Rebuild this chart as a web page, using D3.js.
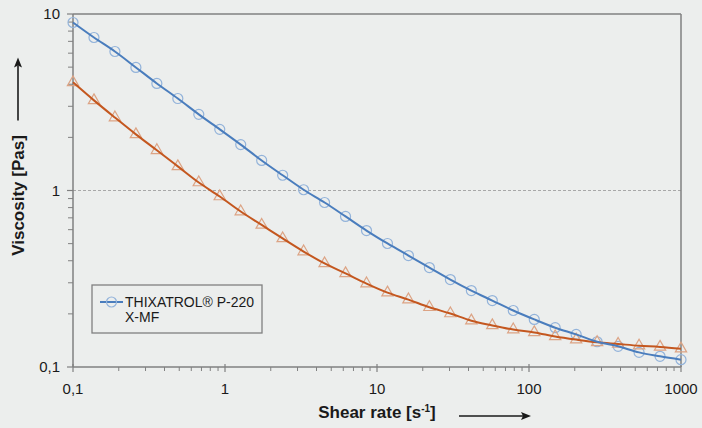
<!DOCTYPE html>
<html>
<head>
<meta charset="utf-8">
<script src="https://cdn.jsdelivr.net/npm/d3@7"></script>
<style>
    body { margin: 0; background: #eceeed; }
    #chart-area { width: 702px; height: 428px; }
    text { font-family: "Liberation Sans", Arial, sans-serif; fill: #1a1a1a; }
</style>
</head>
<body>
<div id="chart-area"></div>
<script>

// shear rate [1/s], 30 points per measurement
let shearRate = [0.1, 0.1374, 0.1887, 0.2593, 0.3562, 0.4894, 0.6723, 0.9236, 1.269, 1.743,
    2.395, 3.290, 4.520, 6.209, 8.530, 11.72, 16.10, 22.12, 30.39, 41.75,
    57.36, 78.80, 108.3, 148.7, 204.3, 280.7, 385.7, 529.8, 727.9, 1000];

// viscosity [Pas]
let viscosityBlue = [8.95, 7.36, 6.13, 4.98, 4.04, 3.32, 2.70, 2.22, 1.82, 1.48,
    1.22, 1.01, 0.855, 0.713, 0.593, 0.501, 0.428, 0.366, 0.313, 0.271,
    0.238, 0.209, 0.186, 0.167, 0.153, 0.139, 0.131, 0.121, 0.115, 0.110];

let viscosityOrange = [4.1, 3.24, 2.59, 2.08, 1.69, 1.37, 1.11, 0.925, 0.76, 0.638,
    0.535, 0.451, 0.386, 0.339, 0.297, 0.264, 0.241, 0.218, 0.201, 0.183,
    0.172, 0.163, 0.157, 0.149, 0.143, 0.138, 0.135, 0.132, 0.130, 0.127];

let xTicks = [0.1, 1, 10, 100, 1000];
let yTicks = [0.1, 1, 10];
let legendLines = ["THIXATROL\u00AE P-220", "X-MF"];


class ViscosityVis {

    constructor(parentElement) {
        this.parentElement = parentElement;
        this.initVis();
    }

    initVis() {
        let vis = this;

        vis.margin = {top: 14, right: 21, bottom: 61, left: 73};
        vis.width = 702 - vis.margin.left - vis.margin.right;
        vis.height = 428 - vis.margin.top - vis.margin.bottom;

        vis.svg = d3.select("#" + vis.parentElement).append("svg")
            .attr("width", 702)
            .attr("height", 428)
            .append("g")
            .attr("transform", `translate(${vis.margin.left}, ${vis.margin.top})`);

        vis.x = d3.scaleLog().domain([0.1, 1000]).range([0, vis.width]);
        vis.y = d3.scaleLog().domain([0.1, 10]).range([vis.height, 0]);

        vis.wrangleData();
    }

    wrangleData() {
        let vis = this;
        vis.blue = shearRate.map((d, i) => ({rate: d, visc: viscosityBlue[i]}));
        vis.orange = shearRate.map((d, i) => ({rate: d, visc: viscosityOrange[i]}));
        vis.updateVis();
    }

    updateVis() {
        let vis = this;
        let fmt = d => String(d).replace(".", ",");
        let axisColor = "#808080";

        // minor ticks 2..9 per decade
        let minorX = vis.x.ticks().filter(d => !xTicks.includes(d));
        let minorY = vis.y.ticks().filter(d => !yTicks.includes(d));

        // gridline at 1
        vis.svg.append("line")
            .attr("x1", 0).attr("x2", vis.width)
            .attr("y1", vis.y(1)).attr("y2", vis.y(1))
            .attr("stroke", "#a8a8a8")
            .attr("stroke-width", 1.2)
            .attr("stroke-dasharray", "3,2");

        // frame top/right
        vis.svg.append("line")
            .attr("x1", 0).attr("x2", vis.width).attr("y1", 0).attr("y2", 0)
            .attr("stroke", axisColor).attr("stroke-width", 1.5);
        vis.svg.append("line")
            .attr("x1", vis.width).attr("x2", vis.width).attr("y1", 0).attr("y2", vis.height)
            .attr("stroke", axisColor).attr("stroke-width", 1.5);

        // x axis
        let xg = vis.svg.append("g")
            .attr("class", "x-axis")
            .attr("transform", "translate(0," + vis.height + ")");
        xg.append("line").attr("x1", 0).attr("x2", vis.width)
            .attr("stroke", axisColor).attr("stroke-width", 1.5);
        xg.selectAll(".minor").data(minorX).enter().append("line")
            .attr("x1", d => vis.x(d)).attr("x2", d => vis.x(d))
            .attr("y1", 0).attr("y2", 4)
            .attr("stroke", axisColor).attr("stroke-width", 1);
        xg.selectAll(".major").data(xTicks).enter().append("line")
            .attr("x1", d => vis.x(d)).attr("x2", d => vis.x(d))
            .attr("y1", -3).attr("y2", 5)
            .attr("stroke", axisColor).attr("stroke-width", 1.2);
        xg.selectAll(".lbl").data(xTicks).enter().append("text")
            .attr("x", d => vis.x(d))
            .attr("y", 27)
            .attr("text-anchor", "middle")
            .style("font-size", "15px")
            .text(d => fmt(d));

        // y axis
        let yg = vis.svg.append("g").attr("class", "y-axis");
        yg.append("line").attr("y1", 0).attr("y2", vis.height)
            .attr("stroke", axisColor).attr("stroke-width", 1.5);
        yg.selectAll(".minor").data(minorY).enter().append("line")
            .attr("y1", d => vis.y(d)).attr("y2", d => vis.y(d))
            .attr("x1", -5).attr("x2", 0)
            .attr("stroke", axisColor).attr("stroke-width", 1);
        yg.selectAll(".major").data(yTicks).enter().append("line")
            .attr("y1", d => vis.y(d)).attr("y2", d => vis.y(d))
            .attr("x1", -6).attr("x2", 0)
            .attr("stroke", axisColor).attr("stroke-width", 1.2);
        yg.selectAll(".lbl").data(yTicks).enter().append("text")
            .attr("x", -13)
            .attr("y", d => vis.y(d))
            .attr("dy", "0.35em")
            .attr("text-anchor", "end")
            .style("font-size", "15px")
            .text(d => fmt(d));

        // series
        let line = d3.line()
            .curve(d3.curveMonotoneX)
            .x(d => vis.x(d.rate))
            .y(d => vis.y(d.visc));

        vis.svg.selectAll(".circ").data(vis.blue).enter().append("circle")
            .attr("cx", d => vis.x(d.rate))
            .attr("cy", d => vis.y(d.visc))
            .attr("r", 5)
            .attr("fill", "none")
            .attr("stroke", "#93b3da")
            .attr("stroke-width", 1.2);

        vis.svg.selectAll(".tri").data(vis.orange).enter().append("path")
            .attr("d", d3.symbol().type(d3.symbolTriangle).size(55))
            .attr("transform", d => `translate(${vis.x(d.rate)},${vis.y(d.visc)})`)
            .attr("fill", "none")
            .attr("stroke", "#dca384")
            .attr("stroke-width", 1.2);

        vis.svg.append("path")
            .attr("d", line(vis.orange))
            .attr("stroke", "#c4571f")
            .attr("stroke-width", 2)
            .attr("fill", "none");

        vis.svg.append("path")
            .attr("d", line(vis.blue))
            .attr("stroke", "#4a7dbd")
            .attr("stroke-width", 2)
            .attr("fill", "none");

        // legend
        let legend = vis.svg.append("g").attr("class", "legend")
            .attr("transform", "translate(19,271)");
        legend.append("rect")
            .attr("width", 170).attr("height", 48)
            .attr("fill", "#eceeed")
            .attr("stroke", axisColor).attr("stroke-width", 1.3);
        legend.append("line")
            .attr("x1", 8).attr("x2", 31).attr("y1", 17).attr("y2", 17)
            .attr("stroke", "#4a7dbd").attr("stroke-width", 2);
        legend.append("circle")
            .attr("cx", 19.5).attr("cy", 17).attr("r", 5)
            .attr("fill", "none").attr("stroke", "#93b3da").attr("stroke-width", 1.2);
        legend.selectAll(".lt").data(legendLines).enter().append("text")
            .attr("x", 33)
            .attr("y", (d, i) => 22 + i * 15)
            .style("font-size", "14px")
            .text(d => d);

        // axis titles
        let yTitle = vis.svg.append("g")
            .attr("transform", `translate(${-55}, ${vis.y(1) + 5}) rotate(-90)`);
        yTitle.append("text")
            .attr("x", 0).attr("y", 0)
            .attr("dy", "0.35em")
            .attr("text-anchor", "middle")
            .style("font-size", "17px")
            .style("font-weight", "bold")
            .text("Viscosity [Pas]");
        yTitle.append("line")
            .attr("x1", 75).attr("x2", 130).attr("y1", 0).attr("y2", 0)
            .attr("stroke", "#1a1a1a").attr("stroke-width", 1.6);
        yTitle.append("path")
            .attr("d", "M138,0 L128,-4 L130,0 L128,4 Z")
            .attr("fill", "#1a1a1a");

        let xTitle = vis.svg.append("text")
            .attr("x", vis.x(10))
            .attr("y", vis.height + 51)
            .attr("text-anchor", "middle")
            .style("font-size", "17px")
            .style("font-weight", "bold");
        xTitle.append("tspan").text("Shear rate [s");
        xTitle.append("tspan").attr("dy", -6).style("font-size", "10px").text("-1");
        xTitle.append("tspan").attr("dy", 6).text("]");

        vis.svg.append("line")
            .attr("x1", 386).attr("x2", 450)
            .attr("y1", vis.height + 49).attr("y2", vis.height + 49)
            .attr("stroke", "#1a1a1a").attr("stroke-width", 1.6);
        vis.svg.append("path")
            .attr("d", `M${458},${vis.height + 49} l-10,-4 l2,4 l-2,4 Z`)
            .attr("fill", "#1a1a1a");
    }
}

let viscosityVis = new ViscosityVis("chart-area");

</script>
</body>
</html>
